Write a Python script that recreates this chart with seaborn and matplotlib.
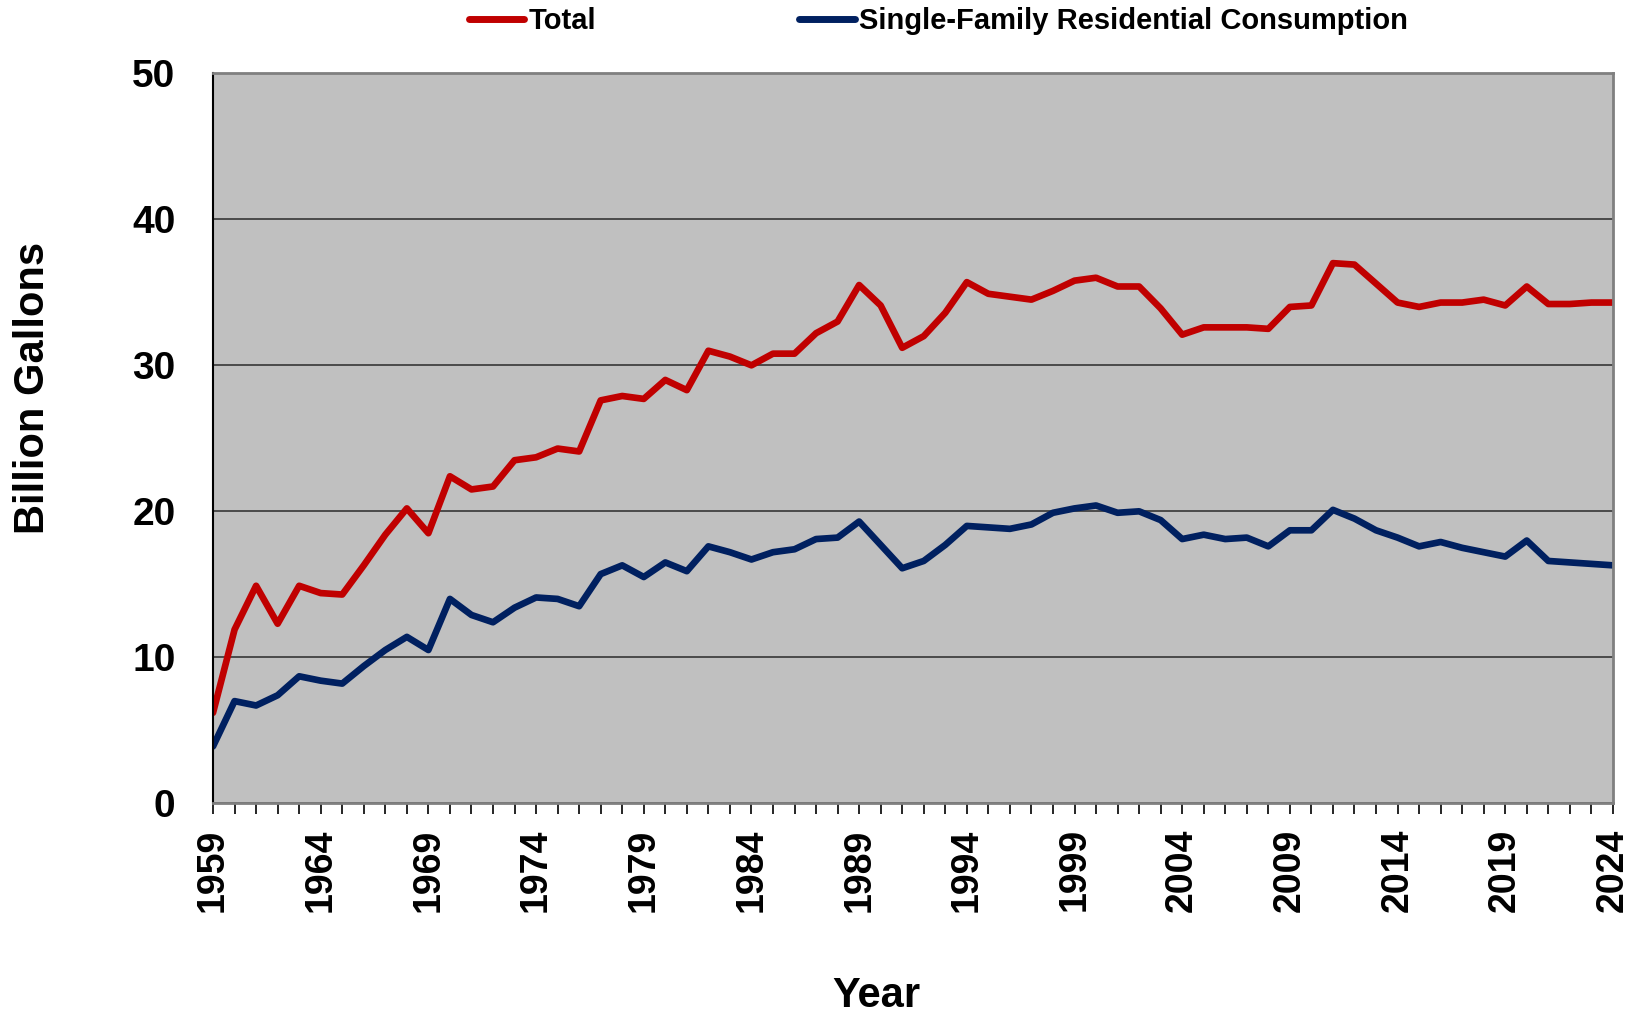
import numpy as np
import pandas as pd
import matplotlib
matplotlib.use("Agg")
import matplotlib.pyplot as plt
from matplotlib.ticker import MultipleLocator
import seaborn as sns

# Values (billion gallons per year)
years = list(range(1959, 2025))

total = [
    6.2, 11.9, 14.9, 12.3, 14.9, 14.4, 14.3, 16.3, 18.4, 20.2,
    18.5, 22.4, 21.5, 21.7, 23.5, 23.7, 24.3, 24.1, 27.6, 27.9,
    27.7, 29.0, 28.3, 31.0, 30.6, 30.0, 30.8, 30.8, 32.2, 33.0,
    35.5, 34.1, 31.2, 32.0, 33.6, 35.7, 34.9, 34.7, 34.5, 35.1,
    35.8, 36.0, 35.4, 35.4, 33.9, 32.1, 32.6, 32.6, 32.6, 32.5,
    34.0, 34.1, 37.0, 36.9, 35.6, 34.3, 34.0, 34.3, 34.3, 34.5,
    34.1, 35.4, 34.2, 34.2, 34.3, 34.3,
]

single_family = [
    3.9, 7.0, 6.7, 7.4, 8.7, 8.4, 8.2, 9.4, 10.5, 11.4,
    10.5, 14.0, 12.9, 12.4, 13.4, 14.1, 14.0, 13.5, 15.7, 16.3,
    15.5, 16.5, 15.9, 17.6, 17.2, 16.7, 17.2, 17.4, 18.1, 18.2,
    19.3, 17.7, 16.1, 16.6, 17.7, 19.0, 18.9, 18.8, 19.1, 19.9,
    20.2, 20.4, 19.9, 20.0, 19.4, 18.1, 18.4, 18.1, 18.2, 17.6,
    18.7, 18.7, 20.1, 19.5, 18.7, 18.2, 17.6, 17.9, 17.5, 17.2,
    16.9, 18.0, 16.6, 16.5, 16.4, 16.3,
]

series_names = ["Total", "Single-Family Residential Consumption"]
colors = ["#C00000", "#002060"]

df = pd.DataFrame({
    "year": years * 2,
    "value": total + single_family,
    "series": [series_names[0]] * len(years) + [series_names[1]] * len(years),
})

sns.set_style("white")
plt.rcParams["font.family"] = ["Liberation Sans", "DejaVu Sans"]
plt.rcParams["font.weight"] = "bold"
plt.rcParams["text.color"] = "black"
plt.rcParams["axes.labelcolor"] = "black"
plt.rcParams["xtick.color"] = "black"
plt.rcParams["ytick.color"] = "black"

fig = plt.figure(figsize=(16.45, 10.13), dpi=100)
ax = fig.add_axes([0.1295, 0.207, 0.851, 0.7206])
ax.set_facecolor("#C0C0C0")

sns.lineplot(data=df, x="year", y="value", hue="series",
             palette=dict(zip(series_names, colors)),
             linewidth=4.8, ax=ax, legend=False)

ax.set_xlim(1959, 2024)
ax.set_ylim(0, 50)
ax.set_yticks(range(0, 51, 10))
ax.set_xticks(range(1959, 2025, 5))
ax.xaxis.set_minor_locator(MultipleLocator(1))

ax.grid(axis="y", color="#2a2a2a", linewidth=1.1)
ax.set_axisbelow(True)

for side in ["top", "right", "bottom"]:
    ax.spines[side].set_color("#808080")
    ax.spines[side].set_linewidth(2)
ax.spines["left"].set_color("black")
ax.spines["left"].set_linewidth(1.5)

ax.tick_params(axis="y", which="major", direction="out", length=9,
               width=1.2, color="#404040", labelcolor="black", pad=18,
               labelsize=28)
ax.tick_params(axis="x", which="both", direction="out", length=8,
               width=1.2, color="black", labelcolor="black", pad=10,
               labelsize=27, labelrotation=90, bottom=True)
for lbl in ax.get_xticklabels() + ax.get_yticklabels():
    lbl.set_fontweight("bold")

ax.set_xlabel("Year", fontsize=30, fontweight="bold", color="black")
ax.set_ylabel("Billion Gallons", fontsize=30, fontweight="bold", color="black")
ax.xaxis.set_label_coords(0.474, -0.236)
ax.yaxis.set_label_coords(-0.114, 0.569)

handles = [plt.Line2D([], [], color=c, linewidth=5) for c in colors]
leg = fig.legend(handles, series_names, loc="center left",
                 bbox_to_anchor=(469 / 1645, 1 - 21 / 1013), ncol=2,
                 frameon=False, prop={"size": 21, "weight": "bold"},
                 handlelength=1.9, handletextpad=0.15, columnspacing=6.95,
                 borderpad=0, borderaxespad=0)
for t in leg.get_texts():
    t.set_color("black")

fig.savefig("out.png", dpi=100)
